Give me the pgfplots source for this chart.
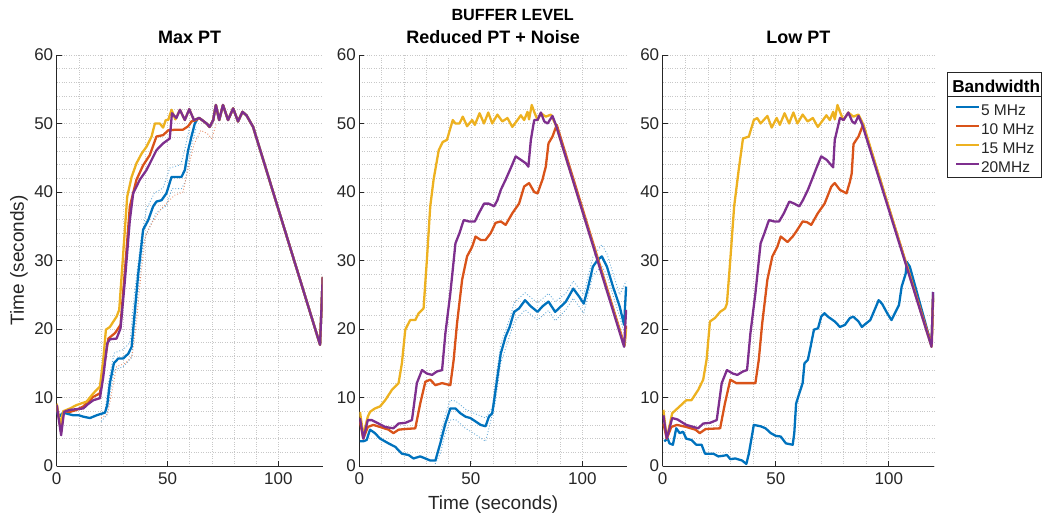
\documentclass[border=0pt]{standalone}
\usepackage{fontspec}
\setmainfont{Liberation Sans}
\usepackage{pgfplots}
\pgfplotsset{compat=1.18}
\definecolor{mblue}{RGB}{0,114,189}
\definecolor{mred}{RGB}{217,83,25}
\definecolor{myellow}{RGB}{237,177,32}
\definecolor{mpurple}{RGB}{126,47,142}
\definecolor{axc}{RGB}{38,38,38}
\definecolor{gridc}{RGB}{200,200,200}
\pgfplotsset{
  myax/.style={
    scale only axis, height=411pt,
    xmin=0, xmax=120, ymin=0, ymax=60,
    xtick={0,50,100}, ytick={0,10,...,60},
    minor x tick num=4, minor y tick num=4,
    grid=both,
    major grid style={gridc, dotted, line width=0.6pt},
    minor grid style={gridc, dotted, line width=0.6pt},
    axis x line*=bottom, axis y line*=left,
    axis line style={axc, line width=0.7pt},
    tick align=inside, major tick length=5pt, minor tick length=0pt,
    tick style={axc, line width=0.7pt},
    /pgf/number format/assume math mode=true,
    ticklabel style={font=\fontsize{17}{20}\selectfont, text=axc},
    xticklabel style={yshift=-3pt},
    title style={at={(0.5,1)}, anchor=base, yshift=5.7pt, font=\fontsize{18}{21}\selectfont\bfseries},
    label style={font=\fontsize{19}{22}\selectfont, text=axc},
    every axis plot/.append style={line width=2.3pt, line join=round},
    anchor=south west,
  },
  bnd/.style={line width=0.9pt, dotted, forget plot},
}
\begin{document}
\begin{tikzpicture}
\useasboundingbox (0,0) rectangle (1043pt,518pt);
\node[anchor=base, font=\fontsize{16.2}{19}\selectfont\bfseries] at (512.7pt,497.3pt) {BUFFER LEVEL};

% ---------------- Panel 1 ----------------
\begin{axis}[myax, at={(56.7pt,52pt)}, width=266pt, title={Max PT},
  ylabel={Time (seconds)}, ylabel style={at={(axis description cs:-0.123,0.5)}, anchor=base}]
\addplot[bnd, mblue!60] coordinates {(22,8.5)(24,13.5)(26,16.5)(30,17)(33,18)(35,25)(38,33)(40.5,37.5)(44,39.8)(48,40.6)(51,43.5)(56,44)(58,46.5)(60,49.5)(62,51)};
\addplot[bnd, mblue!60] coordinates {(20,6.5)(22.8,7.5)(24,10.5)(26,14)(30,14.5)(33.8,15.8)(35.3,20.5)(37,26.5)(39,32.5)(41.3,34.5)(45,37)(49.5,38)(52,40.5)(56.3,40.5)(58,41.5)(59.5,44.5)(61,47)(63,49.5)};
\addplot[bnd, mred!65] coordinates {(20,7)(23,7.6)(25,11)(27,14.5)(31,15)(34,16)(36,21)(38,28)(40,33.5)(43,35.5)(47,37.5)(50,38.5)(53,39.5)(57,40)(59,43)(62,47)(65,49)(68,48.5)(70,47.8)(72,50)};
\addplot[mblue] coordinates {(0,8)(1,7.2)(3,7.8)(5,7.6)(7.5,7.4)(10,7.4)(12,7.2)(15,7)(18,7.4)(21.8,7.8)(22.8,8.9)(24,12.1)(25.8,15)(27.8,15.7)(30,15.7)(32.3,16.4)(33.8,17.4)(35.3,22.8)(36.8,28.1)(39,34.5)(41.3,35.9)(43.5,37.9)(45,38.6)(47.3,38.8)(49.5,39.8)(51.8,42.2)(54,42.2)(56.3,42.2)(57.8,43.2)(59.3,46.1)(60.8,48.1)(62.3,50)(63.8,50.8)(64.3,50.8)(66,50.4)(67.6,50)(69,49.5)(70.6,50.5)(71.8,52.7)(73.3,50.5)(75,52.7)(77.3,50.5)(79.6,52.2)(81.8,50.3)(83.8,51.7)(85.6,51.2)(88.6,49.5)(118.8,17.7)(120,27.6)};
\addplot[mred] coordinates {(0,9)(2,5)(3,8)(6,7.9)(9,8.2)(12,8.7)(16.5,10.1)(19.5,10.6)(21.8,15.5)(23.3,18.6)(26.3,19.4)(28.8,20.6)(30.8,28.6)(33,37.9)(36,41.8)(39,43.9)(42,45.4)(45,48.1)(48,48.3)(50.3,49)(54,49.1)(57,49.1)(59.3,49.6)(60.8,50.3)(63,50.5)(64.3,50.8)(66,50.4)(67.6,50)(69,49.5)(70.6,50.5)(71.8,52.7)(73.3,50.5)(75,52.7)(77.3,50.5)(79.6,52.2)(81.8,50.3)(83.8,51.7)(85.6,51.2)(88.6,49.5)(118.8,17.7)(120,27.6)};
\addplot[myellow] coordinates {(0,9.1)(1.5,6)(3,8)(6,8.4)(9,8.9)(13.5,9.4)(16.5,10.6)(19.5,11.6)(21,15.5)(22.2,19.9)(24,20.3)(27,21.8)(28.2,22.8)(30,31)(31.8,39.3)(33.8,42.2)(36,44.2)(38.3,45.6)(40.5,46.6)(42.8,48.1)(44.3,50)(46.5,50)(48,49.4)(49.2,50.5)(50.3,50.5)(51.8,52)(53.5,50.6)(55.6,52)(57.8,50.5)(59.8,52.1)(61.9,50.5)(64.3,50.8)(66,50.4)(67.6,50)(69,49.5)(70.6,50.5)(71.8,52.7)(73.3,50.5)(75,52.7)(77.3,50.5)(79.6,52.2)(81.8,50.3)(83.8,51.7)(85.6,51.2)(88.6,49.5)(118.8,17.7)(120,27.6)};
\addplot[mpurple] coordinates {(0,8.9)(2,4.5)(3.3,7.9)(6,8.2)(9,8.3)(12,8.4)(14,9)(16.5,9.6)(19.5,9.9)(21,13)(22.8,17.9)(24,18.5)(27,18.6)(28.8,20.1)(30.8,27.2)(33,35.9)(34.5,39.8)(37.5,41.8)(40.5,43.2)(43,44.8)(45,46.1)(48,47.1)(51,47.8)(52,51.5)(54,50.8)(55.6,52)(57.8,50.5)(59.8,52.1)(61.9,50.5)(64.3,50.8)(66,50.4)(67.6,50)(69,49.5)(70.6,50.5)(71.8,52.7)(73.3,50.5)(75,52.7)(77.3,50.5)(79.6,52.2)(81.8,50.3)(83.8,51.7)(85.6,51.2)(88.6,49.5)(118.8,17.7)(120,27.6)};
\end{axis}

% ---------------- Panel 2 ----------------
\begin{axis}[myax, at={(359.3pt,52pt)}, width=267.7pt, title={Reduced PT + Noise},
  xlabel={Time (seconds)}, xlabel style={at={(axis description cs:0.5,-0.107)}, anchor=base}]
\addplot[bnd, mblue!60] coordinates {(36,4)(38.6,7.5)(40.8,9.6)(43.1,9.5)(47.6,8.3)(52.1,7.6)(56.6,7)(59.6,8.5)(61.1,12.5)(63.4,17.8)(67.4,21.5)(69.4,23.8)(71.6,24.5)(74.3,25.3)(79.9,23.8)(84.8,25.2)(87.8,24)(92.6,25.2)(95.9,27)(100.6,25)(104.7,30.5)(108.7,32.3)(111,31)(116.7,25)(119.6,27)};
\addplot[bnd, mblue!60] coordinates {(34,0.3)(36.3,1.8)(38.6,4.8)(40.8,6.7)(43.1,6.8)(47.6,5.5)(52.1,4.6)(56.6,3.6)(58.1,5.5)(61.1,9.5)(63.4,15)(67.4,19)(69.4,21)(71.6,21.8)(74.3,22.8)(79.9,21.3)(84.8,22.7)(87.8,21.2)(92.6,22.8)(95.9,24.5)(100.6,22.3)(104.7,27.8)(108.7,29.2)(111,27.8)(116.7,21.8)(118.7,19.5)};
\addplot[mblue] coordinates {(0.3,3.6)(1.8,3.6)(3.3,3.8)(4.8,5.3)(7,4.8)(9.3,4)(13.1,3.3)(16.1,2.8)(19.1,1.8)(22.1,1.6)(24.3,1.1)(27.3,1.4)(29.6,1.1)(31.8,0.8)(34.1,0.8)(36.3,3.3)(38.6,6.2)(40.8,8.4)(43.1,8.4)(45.3,7.7)(47.6,7.2)(49.8,7)(52.1,6.5)(54.4,6)(56.6,5.8)(58.1,7.2)(59.6,7.7)(61.1,11.1)(63.4,16.4)(65.6,18.9)(67.4,20.3)(69.4,22.5)(71.6,23)(74.3,24.2)(76.9,23.3)(79.9,22.5)(82.1,23.3)(84.8,24)(87.8,22.5)(90.4,23.3)(92.6,24)(95.9,25.9)(98.6,24.7)(100.6,23.7)(102.4,25.9)(104.7,29.1)(106.9,30.1)(108.7,30.6)(111,29.1)(113.7,26.2)(116.7,23.3)(118.7,20.6)(119.6,26.2)};
\addplot[mred] coordinates {(0.3,6.5)(1.8,4)(3.8,5.7)(6.3,6)(9.3,5.7)(13.1,5.3)(15.3,4.8)(17.6,5.3)(20.6,5.4)(25.1,5.5)(27.3,9.1)(29.6,12.3)(31.8,12.6)(34.1,11.8)(37.1,12.1)(40.8,11.8)(42.3,15.5)(43.8,20.8)(46.1,27.2)(48.3,30.6)(50.6,32)(52.1,33.5)(54.4,33)(56.6,33)(58.9,34)(61.1,35.5)(63.4,35.7)(65.6,35.2)(68.6,36.9)(71.6,38.3)(73.9,40.8)(76.1,41.3)(78.4,40)(79.9,39.8)(82.1,41.8)(83.6,43.7)(84.8,47.1)(86.6,48.1)(88.5,49.8)(118.9,17.6)(119.6,20.5)};
\addplot[myellow] coordinates {(0.3,7.9)(1.8,4.5)(3.8,7.2)(4.8,7.9)(7,8.4)(9.3,8.7)(11.6,9.6)(14.6,11.1)(17.6,12.1)(19.1,15)(20.6,19.9)(22.8,21.3)(25.1,21.3)(26.6,22.3)(28.8,23)(30.3,30.1)(31.8,37.9)(33.3,41.8)(35.6,46.1)(37.4,47.3)(39.3,47.6)(40.8,49.3)(41.9,50.5)(43.1,50)(44.9,50)(46.4,51)(48.3,49.6)(50.6,50.5)(51.8,49.8)(53.9,51.5)(55.9,50)(57.8,51.6)(59.6,50)(61.9,51.3)(64.1,50.3)(66.4,50.8)(68.6,49.5)(70.9,50.5)(72.4,51.2)(73.9,50.5)(75.4,51.7)(76.1,50.6)(77.3,52.7)(78.4,51.7)(79.9,50.5)(81.4,51.5)(83.6,51)(85.9,51.3)(88.3,49.6)(118.8,17.5)(119.6,20)};
\addplot[mpurple] coordinates {(0.3,7)(1.8,4)(3.8,6.7)(5.6,6.7)(8.6,6.2)(11.6,5.7)(15.3,5.5)(17.6,6.2)(20.6,6.3)(23.6,6.7)(25.8,12.1)(28.1,14)(30.3,13.5)(32.6,13.3)(34.8,13.8)(37.1,14)(38.6,19.4)(40.8,25.2)(43.1,32.5)(44.9,34)(46.8,35.9)(49.1,35.7)(51.8,35.7)(53.6,36.9)(55.9,38.3)(58.1,38.3)(60.4,37.9)(61.9,38.8)(63.4,40.3)(65.6,41.8)(67.9,43.5)(70.1,45.2)(72.4,44.7)(74.6,44.2)(75.8,43.7)(76.9,47.6)(78.4,50.5)(79.9,50.5)(81.4,51.6)(82.9,50.3)(84.4,50)(86.6,51.1)(88.1,49.8)(118.7,17.4)(119.6,22.8)};
\end{axis}

% ---------------- Panel 3 ----------------
\begin{axis}[myax, at={(662.7pt,52pt)}, width=271.3pt, title={Low PT},
  legend style={at={(1.0774,0.882)}, anchor=north west, draw=none, fill=none,
    inner sep=0pt, outer sep=0pt, row sep=3pt, text=axc,
    font=\fontsize{15.5}{18}\selectfont,
    nodes={inner sep=1pt, text height=11pt, text depth=3pt}},
  legend cell align=left,
  legend image code/.code={\draw[#1, line width=2pt] (0pt,4pt) -- (23pt,4pt);}]
\addplot[mblue] coordinates {(0.7,3.6)(2.2,4)(3,3.3)(4.5,3.1)(6,5.5)(7.5,4.8)(9,5)(10.4,4)(12.7,3.8)(14.9,3.1)(17.2,3.1)(18.7,1.8)(22.4,1.8)(24.6,1.4)(26.9,1.5)(28.4,1.6)(29.9,1)(32.1,1.1)(35.1,0.8)(37,0.3)(38.1,1.8)(40.3,6)(43.3,5.8)(45.5,5.5)(47.8,4.8)(50,4.4)(52.2,4.3)(54.5,3.3)(57.5,3.1)(58.2,4.8)(59,9.1)(60.4,10.6)(61.9,12.1)(62.7,15)(64.2,15.5)(65.4,17.4)(66.9,19.9)(68.7,20.1)(70.1,21.8)(71.6,22.3)(73.1,21.8)(76.1,21.1)(78.4,20.3)(80.6,20.6)(82.8,21.6)(84.3,21.8)(86.6,21.1)(88.1,20.3)(89.9,20.8)(91.8,21.3)(94,23)(95.5,24.2)(97,23.7)(99.3,22.3)(101.2,21.3)(103,22.5)(104.5,23.5)(105.7,26.2)(107.5,28.1)(107.9,29.8)(109.3,29.1)(118.9,17.6)(119.6,25.4)};
\addlegendentry{5 MHz}
\addplot[mred] coordinates {(0.3,6.2)(1.8,4)(3.8,5.7)(6.3,6)(10.4,5.7)(14.5,5.3)(16.4,4.8)(19,5.4)(25.4,5.5)(27.5,9.1)(29.9,12.6)(32.5,12.1)(37,12.1)(41,12.1)(42.5,15.5)(44,20.8)(46.3,27.2)(48.5,30.6)(50.7,32)(52.2,33.5)(55.2,32.7)(57.5,33.5)(59,34.2)(61.9,35.7)(63.8,35.6)(65.7,35.2)(68.6,36.9)(71.6,38.3)(74.6,40.8)(76.1,41.3)(78.4,40.3)(81.3,39.8)(82.8,41.5)(83.6,42.7)(84.4,47)(86.6,48.1)(88.6,49.8)(119,17.6)(119.6,24.5)};
\addlegendentry{10 MHz}
\addplot[myellow] coordinates {(0.3,8.2)(1.8,4)(4.2,7.7)(7.5,8.7)(10.4,9.6)(12.7,9.6)(15.7,11.1)(17.9,12.6)(19.4,15.5)(20.9,21.1)(23.1,21.6)(25.4,22.5)(27.6,23)(28.4,23.7)(29.9,30.1)(31.6,37.9)(33.6,43.2)(35.5,47.8)(38.1,48.1)(40.3,50.5)(41.8,50.8)(43.3,50)(46.3,51.1)(48.2,49.4)(50.4,50.8)(51.8,49.8)(53.9,51.5)(55.9,50)(57.8,51.6)(59.6,50)(61.9,51.3)(64.1,50.3)(66.4,50.8)(68.6,49.5)(70.9,50.5)(72.4,51.2)(73.9,50.5)(75.4,51.7)(76.1,50.6)(77.3,52.7)(78.4,51.7)(79.9,50.5)(82.1,51.6)(84.3,51)(86.6,51.3)(88.8,49.8)(118.9,17.4)(119.6,25)};
\addlegendentry{15 MHz}
\addplot[mpurple] coordinates {(0.3,7.4)(1.8,4)(4.2,7)(6.5,6.8)(10.4,6)(15.7,5.5)(17.9,6.2)(20.9,6.3)(23.9,6.7)(26.1,12.1)(28.4,14)(31,13.5)(33,13.3)(35.5,13.8)(37.3,14)(38.8,19.4)(41,25.2)(43.3,32.5)(45,34)(47,35.9)(49.3,35.7)(51.5,35.7)(53.6,36.9)(56,38.6)(58.2,38.3)(60.4,37.9)(62,38.8)(64.2,40.3)(66,41.8)(68,43.5)(70.1,45.2)(72.5,44.7)(75.4,43.6)(76.1,47.6)(78.4,50.8)(80,50.5)(82.1,51.6)(83.8,50.3)(85,50)(86.6,51.1)(88.3,49.8)(118.9,17.4)(119.6,25.4)};
\addlegendentry{20MHz}
\end{axis}

% legend frame, title and separator
\draw[axc, line width=0.7pt] (947.3pt,445.7pt) rectangle (1041.7pt,340.7pt);
\draw[axc, line width=0.7pt] (947.3pt,421.3pt) -- (1041.7pt,421.3pt);
\node[anchor=base, text=black, font=\fontsize{17.2}{20}\selectfont\bfseries] at (996.2pt,425.3pt) {Bandwidth};
\end{tikzpicture}
\end{document}
